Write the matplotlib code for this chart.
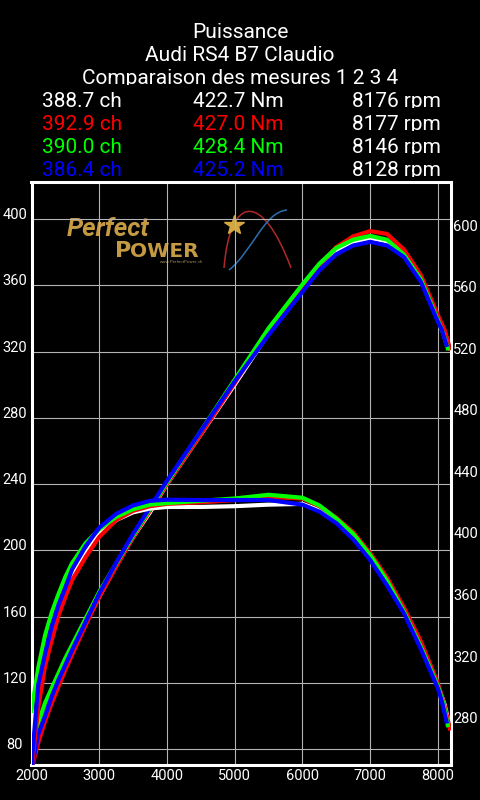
import matplotlib
matplotlib.use('Agg')
import matplotlib.pyplot as plt
import matplotlib.transforms as mtransforms
from matplotlib.path import Path
from matplotlib.patches import PathPatch

plt.rcParams['font.family'] = ['Roboto', 'DejaVu Sans']

# data

title_lines = ['Puissance', 'Audi RS4 B7 Claudio', 'Comparaison des mesures 1 2 3 4']

run_colors = ['#ffffff', '#ff0000', '#00ff00', '#0000ff']
peak_power = ['388.7 ch', '392.9 ch', '390.0 ch', '386.4 ch']
peak_torque = ['422.7 Nm', '427.0 Nm', '428.4 Nm', '425.2 Nm']
max_rpm = ['8176 rpm', '8177 rpm', '8146 rpm', '8128 rpm']

rpm_base = [2000, 2100, 2200, 2300, 2400, 2500, 2600, 2800, 3000, 3250, 3500,
            3750, 4000, 4500, 5000, 5500, 6000, 6250, 6500, 6750, 7000, 7250,
            7500, 7750, 8000]

rpm_white = rpm_base + [8100, 8176]
rpm_red = rpm_base + [8100, 8177]
rpm_green = rpm_base + [8080, 8146]
rpm_blue = rpm_base + [8060, 8128]

# power, ch (left axis)
ch_white = [72, 88, 100, 111, 120, 130, 139, 156, 172, 191, 208, 223, 240, 270,
            300, 331, 358, 370, 380, 386, 388.5, 386.5, 379.5, 365, 341, 332, 322]
ch_red = [68, 84, 97, 108, 118, 128, 137, 155, 172, 190, 208, 224, 240, 270,
          301, 332.5, 359, 372, 383, 389.5, 392.7, 391, 381.5, 366, 342, 333, 322]
ch_green = [81.5, 96, 108, 117, 126, 135, 143, 159, 175, 192, 209, 225, 241, 272,
            303, 334, 360.5, 373, 382.5, 387.5, 389.8, 387.5, 378.5, 363.5, 339, 331, 322]
ch_blue = [68, 89, 100, 112, 122, 131, 140, 157, 174, 192.5, 210, 226, 242, 272,
           302, 330, 356, 369, 378.7, 384, 386.2, 384, 377, 362, 338, 333, 324]

# torque, Nm (right axis)
nm_white = [253, 297, 320, 338, 352, 364, 375, 390, 403, 412, 417, 419.5, 420.5,
            420.5, 421, 422, 422.5, 418.5, 411, 401, 387.5, 372, 353, 331, 304.5, 292, 277.6]
nm_red = [250, 290, 317, 334, 350, 362, 373, 388, 401, 412, 418, 421, 422.5,
          423.5, 425, 427, 426, 421, 413.5, 404, 390.5, 374.5, 355, 333, 306, 291, 276.5]
nm_green = [288, 316, 337, 352, 364, 375, 384, 397, 406, 414, 419, 422, 423,
            424.5, 426, 428.4, 426.5, 421.5, 413, 403, 389.3, 372.5, 352.5, 329.5, 304, 293, 278.7]
nm_blue = [253, 305, 325, 343, 357, 368, 380, 395, 407, 416, 421.5, 424.5, 425.2,
           425, 425, 425, 422, 417.5, 410, 399.5, 386, 369.5, 351.3, 328, 302.6, 294, 281]

runs = [(rpm_white, ch_white, nm_white),
        (rpm_red, ch_red, nm_red),
        (rpm_green, ch_green, nm_green),
        (rpm_blue, ch_blue, nm_blue)]

x_ticks = [2000, 3000, 4000, 5000, 6000, 7000, 8000]
ch_ticks = [80, 120, 160, 200, 240, 280, 320, 360, 400]
nm_ticks = [280, 320, 360, 400, 440, 480, 520, 560, 600]

# figure

W, H = 480, 800
fig = plt.figure(figsize=(4.8, 8), dpi=100, facecolor='black')


def fx(px):
    return px / W


def fy(py):
    return 1 - py / H


gold = '#c49a42'
grid_col = '#b4b4b4'

ax = fig.add_axes([fx(31.5), fy(765), (450.7 - 31.5) / W, (765 - 181.7) / H])
ax.set_facecolor('black')
ax2 = ax.twinx()

ax.set_xlim(2000, 8190)
ax.set_ylim(70.5, 422.5)
ax2.set_ylim(252.7, 632)

ax.set_xticks(x_ticks)
ax.set_yticks(ch_ticks)
ax2.set_yticks(nm_ticks)

ax.grid(True, color=grid_col, lw=0.8)
ax2.grid(False)

for s in ax.spines.values():
    s.set_color('white')
    s.set_linewidth(2.2)
for s in ax2.spines.values():
    s.set_visible(False)

ax.tick_params(axis='x', length=0, pad=3.2, labelsize=10.5, colors='white')
ax.tick_params(axis='y', length=0, pad=12, labelsize=10.5, colors='white')
ax2.tick_params(axis='y', length=0, pad=1.8, labelsize=10.5, colors='white')

# y labels sit just above their grid line
up = mtransforms.ScaledTranslation(0, 0.055, fig.dpi_scale_trans)
for lbl in ax.get_yticklabels():
    lbl.set_horizontalalignment('center')
    lbl.set_transform(lbl.get_transform() + up)
for lbl in ax2.get_yticklabels():
    lbl.set_transform(lbl.get_transform() + up)

# curves
for i, (rpm, ch, nm) in enumerate(runs):
    ax.plot(rpm, ch, color=run_colors[i], lw=3.0, zorder=3 + i,
            solid_joinstyle='round')
    ax2.plot(rpm, nm, color=run_colors[i], lw=3.0, zorder=3 + i,
             solid_joinstyle='round')

# logo (behind the grid)
ax.text(fx(67), fy(236), 'Perfect', transform=fig.transFigure, fontsize=18.5,
        style='italic', weight='bold', color=gold, zorder=0.2)
ax.text(fx(115), fy(257), 'P', transform=fig.transFigure, fontsize=16,
        weight='bold', family='DejaVu Sans', color=gold, zorder=0.2)
ax.text(fx(130), fy(257), 'OWER', transform=fig.transFigure, fontsize=14.5,
        weight='bold', family='DejaVu Sans', color=gold, zorder=0.2)
ax.text(fx(160), fy(263), 'www.PerfectPower.ch', transform=fig.transFigure,
        fontsize=3.2, color='#9a8a60', zorder=0.2)
red_arc = Path([(fx(224), fy(268)), (fx(230), fy(195)), (fx(262), fy(190)),
                (fx(291), fy(268))],
               [Path.MOVETO, Path.CURVE4, Path.CURVE4, Path.CURVE4])
blue_arc = Path([(fx(229), fy(270)), (fx(252), fy(252)), (fx(264), fy(212)),
                 (fx(287), fy(210))],
                [Path.MOVETO, Path.CURVE4, Path.CURVE4, Path.CURVE4])
ax.add_patch(PathPatch(red_arc, transform=fig.transFigure, fill=False,
                       ec='#b02828', lw=1.1, zorder=0.2))
ax.add_patch(PathPatch(blue_arc, transform=fig.transFigure, fill=False,
                       ec='#2e6fb0', lw=1.1, zorder=0.2))
ax.plot([fx(234)], [fy(225)], marker='*', ms=15, color='#d4a840',
        transform=fig.transFigure, zorder=0.3, clip_on=False)

# header, each line cut just under its baseline


def header_text(x, base, s, color, ha='left'):
    t = fig.text(fx(x), fy(base), s, color=color, fontsize=15, ha=ha,
                 va='baseline')
    box = mtransforms.TransformedBbox(
        mtransforms.Bbox([[0, fy(base + 1.2)], [1, 1]]), fig.transFigure)
    t.set_clip_box(box)
    t.set_clip_on(True)
    return t


title_base = [38, 61, 83.5]
for s, b in zip(title_lines, title_base):
    header_text(240, b, s, 'white', ha='center')

row_base = [106.7, 130, 152.7, 176]
for i in range(4):
    header_text(41.7, row_base[i], peak_power[i], run_colors[i])
    header_text(193.3, row_base[i], peak_torque[i], run_colors[i])
    header_text(352.3, row_base[i], max_rpm[i], 'white')

fig.savefig('out.png', dpi=100, facecolor='black')
